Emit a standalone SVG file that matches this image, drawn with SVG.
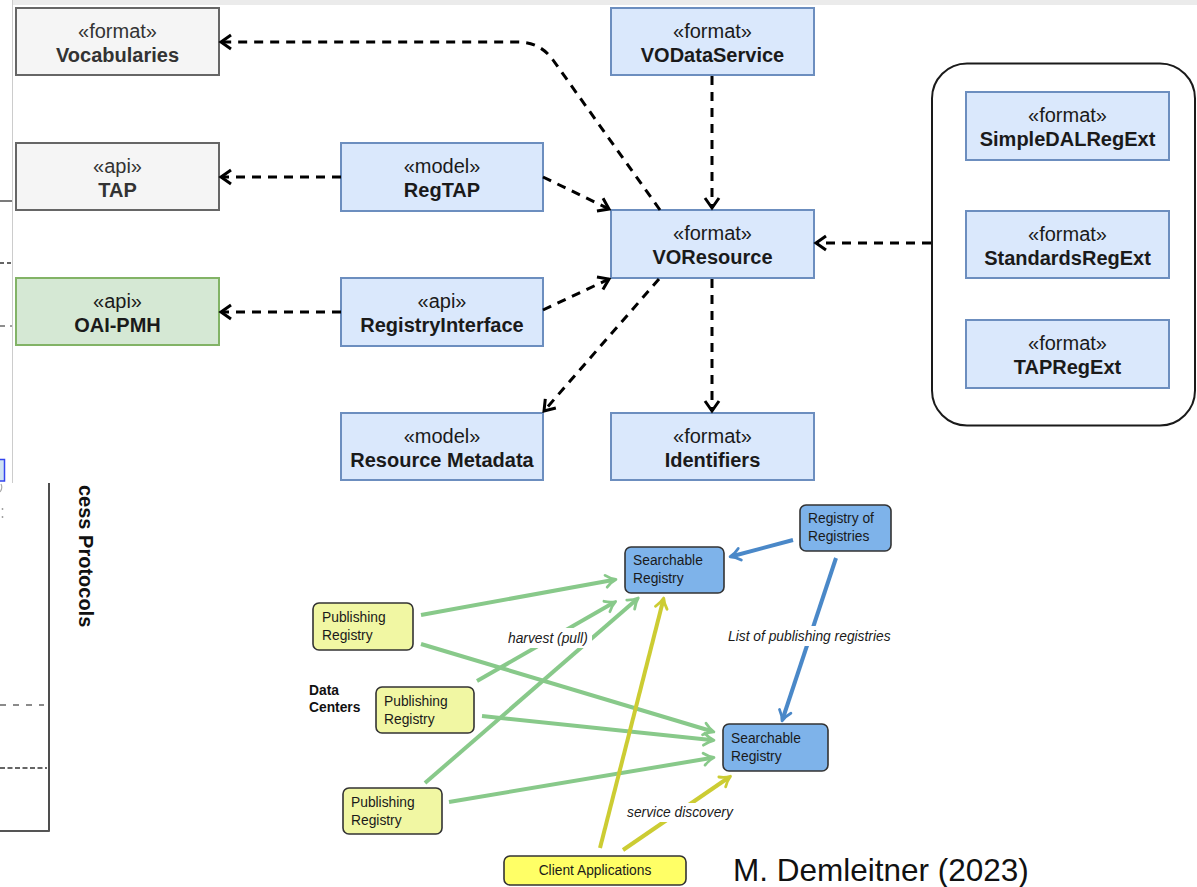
<svg xmlns="http://www.w3.org/2000/svg" width="1197" height="887" viewBox="0 0 1197 887">
  <style>
    .box rect { stroke-width: 2; }
    .blue rect { fill: #dae8fc; stroke: #6c8ebf; }
    .gray rect { fill: #f5f5f5; stroke: #666666; }
    .green rect { fill: #d5e8d4; stroke: #82b366; }
    .st { font-family: "Liberation Sans", Arial, sans-serif; font-size: 20px; text-anchor: middle; fill: #1a1a1a; }
    .nm { font-family: "Liberation Sans", Arial, sans-serif; font-size: 20px; font-weight: bold; text-anchor: middle; fill: #1a1a1a; }
    .gray text { fill: #333333; }
    .dep { fill: none; stroke: #000; stroke-width: 3; stroke-dasharray: 9 7; marker-end: url(#open); }
    .tk rect { stroke: #333; stroke-width: 1.6; }
    .tk text, .lbl { font-family: "Liberation Sans", Arial, sans-serif; font-size: 13.8px; fill: #1a1a1a; }
    .pub rect { fill: #f1f7a3; }
    .srch rect { fill: #7eb3ea; }
    .lbl { font-style: italic; }
    .gr { stroke: #88c98a; stroke-width: 4; fill: none; marker-end: url(#hg); }
    .yl { stroke: #cccc33; stroke-width: 4; fill: none; marker-end: url(#hy); }
    .bl { stroke: #4a88c8; stroke-width: 4; fill: none; marker-end: url(#hb); }
  </style>
  <defs>
    <marker id="open" markerUnits="userSpaceOnUse" viewBox="-12 -8 14 16" refX="0" refY="0" markerWidth="14" markerHeight="16" orient="auto" overflow="visible">
      <path d="M-10,-7 L0,0 L-10,7" fill="none" stroke="#000" stroke-width="3"/>
    </marker>
    <marker id="hg" markerUnits="userSpaceOnUse" viewBox="-4 -8 16 16" refX="6" refY="0" markerWidth="16" markerHeight="16" orient="auto" overflow="visible">
      <path d="M-1,-6 Q4,-1.5 9,0 Q4,1.5 -1,6" fill="none" stroke="#88c98a" stroke-width="2.8" stroke-linecap="round" stroke-linejoin="round"/>
    </marker>
    <marker id="hy" markerUnits="userSpaceOnUse" viewBox="-4 -8 16 16" refX="6" refY="0" markerWidth="16" markerHeight="16" orient="auto" overflow="visible">
      <path d="M-1,-6 Q4,-1.5 9,0 Q4,1.5 -1,6" fill="none" stroke="#cccc33" stroke-width="2.8" stroke-linecap="round" stroke-linejoin="round"/>
    </marker>
    <marker id="hb" markerUnits="userSpaceOnUse" viewBox="-4 -8 16 16" refX="6" refY="0" markerWidth="16" markerHeight="16" orient="auto" overflow="visible">
      <path d="M-1,-6 Q4,-1.5 9,0 Q4,1.5 -1,6" fill="none" stroke="#4a88c8" stroke-width="2.8" stroke-linecap="round" stroke-linejoin="round"/>
    </marker>
  </defs>

  <rect width="1197" height="887" fill="#ffffff"/>

  <!-- underlying sheet: edge of a protocol table -->
  <g id="backsheet">
    <line x1="0" y1="201" x2="12" y2="201" stroke="#333" stroke-width="1.3"/>
    <line x1="0" y1="263" x2="12" y2="263" stroke="#333" stroke-width="1.3" stroke-dasharray="4 3"/>
    <line x1="0" y1="326" x2="5" y2="326" stroke="#444" stroke-width="1.2"/>
    <line x1="10" y1="326" x2="12" y2="326" stroke="#444" stroke-width="1.2"/>
    <rect x="-2" y="459.5" width="6.5" height="21.5" fill="#cfe2f3" stroke="#3344ee" stroke-width="1.5"/>
    <path d="M1,484 Q3,488 0,492" fill="none" stroke="#aaa" stroke-width="1.2"/>
    <circle cx="2.5" cy="509" r="0.9" fill="#999"/>
    <circle cx="2.5" cy="517" r="0.9" fill="#999"/>
    <line x1="49" y1="483" x2="49" y2="831" stroke="#222" stroke-width="1.6"/>
    <line x1="0" y1="831" x2="49.8" y2="831" stroke="#555" stroke-width="2"/>
    <line x1="0" y1="705" x2="44" y2="705" stroke="#666" stroke-width="1.5" stroke-dasharray="6 7"/>
    <line x1="0" y1="768" x2="47" y2="768" stroke="#333" stroke-width="1.5" stroke-dasharray="5 2.5"/>
    <text transform="translate(79,485) rotate(90)" font-family="Liberation Sans, Arial, sans-serif" font-size="20" font-weight="bold" fill="#111">cess Protocols</text>
  </g>

  <!-- front sheet: registry standards -->
  <g id="panel">
    <rect x="12" y="0" width="1185" height="483" fill="#ffffff"/>
    <rect x="12" y="0" width="1185" height="5" fill="#ebebeb"/>
    <line x1="12.5" y1="0" x2="12.5" y2="483" stroke="#cccccc" stroke-width="1"/>
  </g>

  <g id="extensions-group">
    <rect x="932" y="63.5" width="263" height="362" rx="35" fill="#ffffff" stroke="#1a1a1a" stroke-width="2"/>
  </g>

  <g id="vocabularies" class="box gray">
    <rect x="16" y="8" width="203" height="67"/>
    <text class="st" x="117.5" y="38">«format»</text>
    <text class="nm" x="117.5" y="62">Vocabularies</text>
  </g>
  <g id="tap" class="box gray">
    <rect x="16" y="143" width="203" height="67"/>
    <text class="st" x="117.5" y="173">«api»</text>
    <text class="nm" x="117.5" y="197">TAP</text>
  </g>
  <g id="oai-pmh" class="box green">
    <rect x="16" y="278" width="203" height="67"/>
    <text class="st" x="117.5" y="308">«api»</text>
    <text class="nm" x="117.5" y="332">OAI-PMH</text>
  </g>
  <g id="regtap" class="box blue">
    <rect x="341" y="143" width="202" height="68"/>
    <text class="st" x="442" y="173">«model»</text>
    <text class="nm" x="442" y="197">RegTAP</text>
  </g>
  <g id="registryinterface" class="box blue">
    <rect x="341" y="278" width="202" height="68"/>
    <text class="st" x="442" y="308">«api»</text>
    <text class="nm" x="442" y="332">RegistryInterface</text>
  </g>
  <g id="resource-metadata" class="box blue">
    <rect x="341" y="413" width="202" height="67"/>
    <text class="st" x="442" y="443">«model»</text>
    <text class="nm" x="442" y="467">Resource Metadata</text>
  </g>
  <g id="vodataservice" class="box blue">
    <rect x="611" y="8" width="203" height="67"/>
    <text class="st" x="712.5" y="38">«format»</text>
    <text class="nm" x="712.5" y="62">VODataService</text>
  </g>
  <g id="voresource" class="box blue">
    <rect x="611" y="210" width="203" height="68"/>
    <text class="st" x="712.5" y="240">«format»</text>
    <text class="nm" x="712.5" y="264">VOResource</text>
  </g>
  <g id="identifiers" class="box blue">
    <rect x="611" y="413" width="203" height="67"/>
    <text class="st" x="712.5" y="443">«format»</text>
    <text class="nm" x="712.5" y="467">Identifiers</text>
  </g>
  <g id="simpledalregext" class="box blue">
    <rect x="966" y="92" width="203" height="68"/>
    <text class="st" x="1067.5" y="122">«format»</text>
    <text class="nm" x="1067.5" y="146">SimpleDALRegExt</text>
  </g>
  <g id="standardsregext" class="box blue">
    <rect x="966" y="211" width="203" height="67"/>
    <text class="st" x="1067.5" y="241">«format»</text>
    <text class="nm" x="1067.5" y="265">StandardsRegExt</text>
  </g>
  <g id="tapregext" class="box blue">
    <rect x="966" y="320" width="203" height="68"/>
    <text class="st" x="1067.5" y="350">«format»</text>
    <text class="nm" x="1067.5" y="374">TAPRegExt</text>
  </g>

  <!-- dependency connectors -->
  <g id="dependencies">
    <path class="dep" d="M660,210 L553,60 Q540,42 518,42 L221,42"/>
    <path class="dep" d="M341,177 L221,177"/>
    <path class="dep" d="M341,312 L221,312"/>
    <path class="dep" d="M543,177 L609,209"/>
    <path class="dep" d="M543,310 L609,279"/>
    <path class="dep" d="M712,76 L712,208"/>
    <path class="dep" d="M659,279 L544,411"/>
    <path class="dep" d="M712,279 L712,411"/>
    <path class="dep" d="M931,243 L816,243"/>
  </g>

  <!-- registry network -->
  <g id="harvest-links">
    <path class="gr" d="M421,615 L613,580"/>
    <path class="gr" d="M421,644 L711,731"/>
    <path class="gr" d="M477,681 L613,603"/>
    <path class="gr" d="M482,716 L711,740"/>
    <path class="gr" d="M449,802 L711,758"/>
    <path class="gr" d="M425,783 L636,600"/>
    <path class="yl" d="M600,848 L663,601"/>
    <path class="yl" d="M623,850 L728,778"/>
    <path class="bl" d="M793,540 L733,556"/>
    <path class="bl" d="M836,558 L783,718"/>
    <rect x="503" y="628" width="89" height="20" fill="#ffffff"/>
    <text class="lbl" x="508" y="643">harvest (pull)</text>
    <rect x="724" y="626" width="172" height="20" fill="#ffffff"/>
    <text class="lbl" x="728" y="641">List of publishing registries</text>
    <rect x="622" y="803" width="110" height="19" fill="#ffffff"/>
    <text class="lbl" x="627" y="817">service discovery</text>
  </g>

  <g id="publishing-registry-1" class="tk pub">
    <rect x="313" y="603" width="100" height="47" rx="6"/>
    <text x="322" y="622">Publishing</text>
    <text x="322" y="640">Registry</text>
  </g>
  <g id="publishing-registry-2" class="tk pub">
    <rect x="376" y="687" width="98" height="46" rx="6"/>
    <text x="384" y="706">Publishing</text>
    <text x="384" y="724">Registry</text>
  </g>
  <g id="publishing-registry-3" class="tk pub">
    <rect x="343" y="788" width="99" height="46" rx="6"/>
    <text x="351" y="807">Publishing</text>
    <text x="351" y="825">Registry</text>
  </g>
  <g id="data-centers">
    <text x="309" y="695" font-family="Liberation Sans, Arial, sans-serif" font-size="13.8" font-weight="bold" fill="#111">Data</text>
    <text x="309" y="712" font-family="Liberation Sans, Arial, sans-serif" font-size="13.8" font-weight="bold" fill="#111">Centers</text>
  </g>
  <g id="searchable-registry-1" class="tk srch">
    <rect x="625" y="547" width="99" height="46" rx="6"/>
    <text x="633" y="565">Searchable</text>
    <text x="633" y="583">Registry</text>
  </g>
  <g id="registry-of-registries" class="tk srch">
    <rect x="800" y="505" width="91" height="46" rx="6"/>
    <text x="808" y="523">Registry of</text>
    <text x="808" y="541">Registries</text>
  </g>
  <g id="searchable-registry-2" class="tk srch">
    <rect x="723" y="724" width="105" height="47" rx="6"/>
    <text x="731" y="743">Searchable</text>
    <text x="731" y="761">Registry</text>
  </g>
  <g id="client-applications" class="tk">
    <rect x="504" y="856" width="182" height="29" rx="6" fill="#ffff66"/>
    <text x="595" y="875" text-anchor="middle">Client Applications</text>
  </g>

  <text id="credit" x="733" y="881" font-family="Liberation Sans, Arial, sans-serif" font-size="31.5" fill="#111">M. Demleitner (2023)</text>
</svg>
